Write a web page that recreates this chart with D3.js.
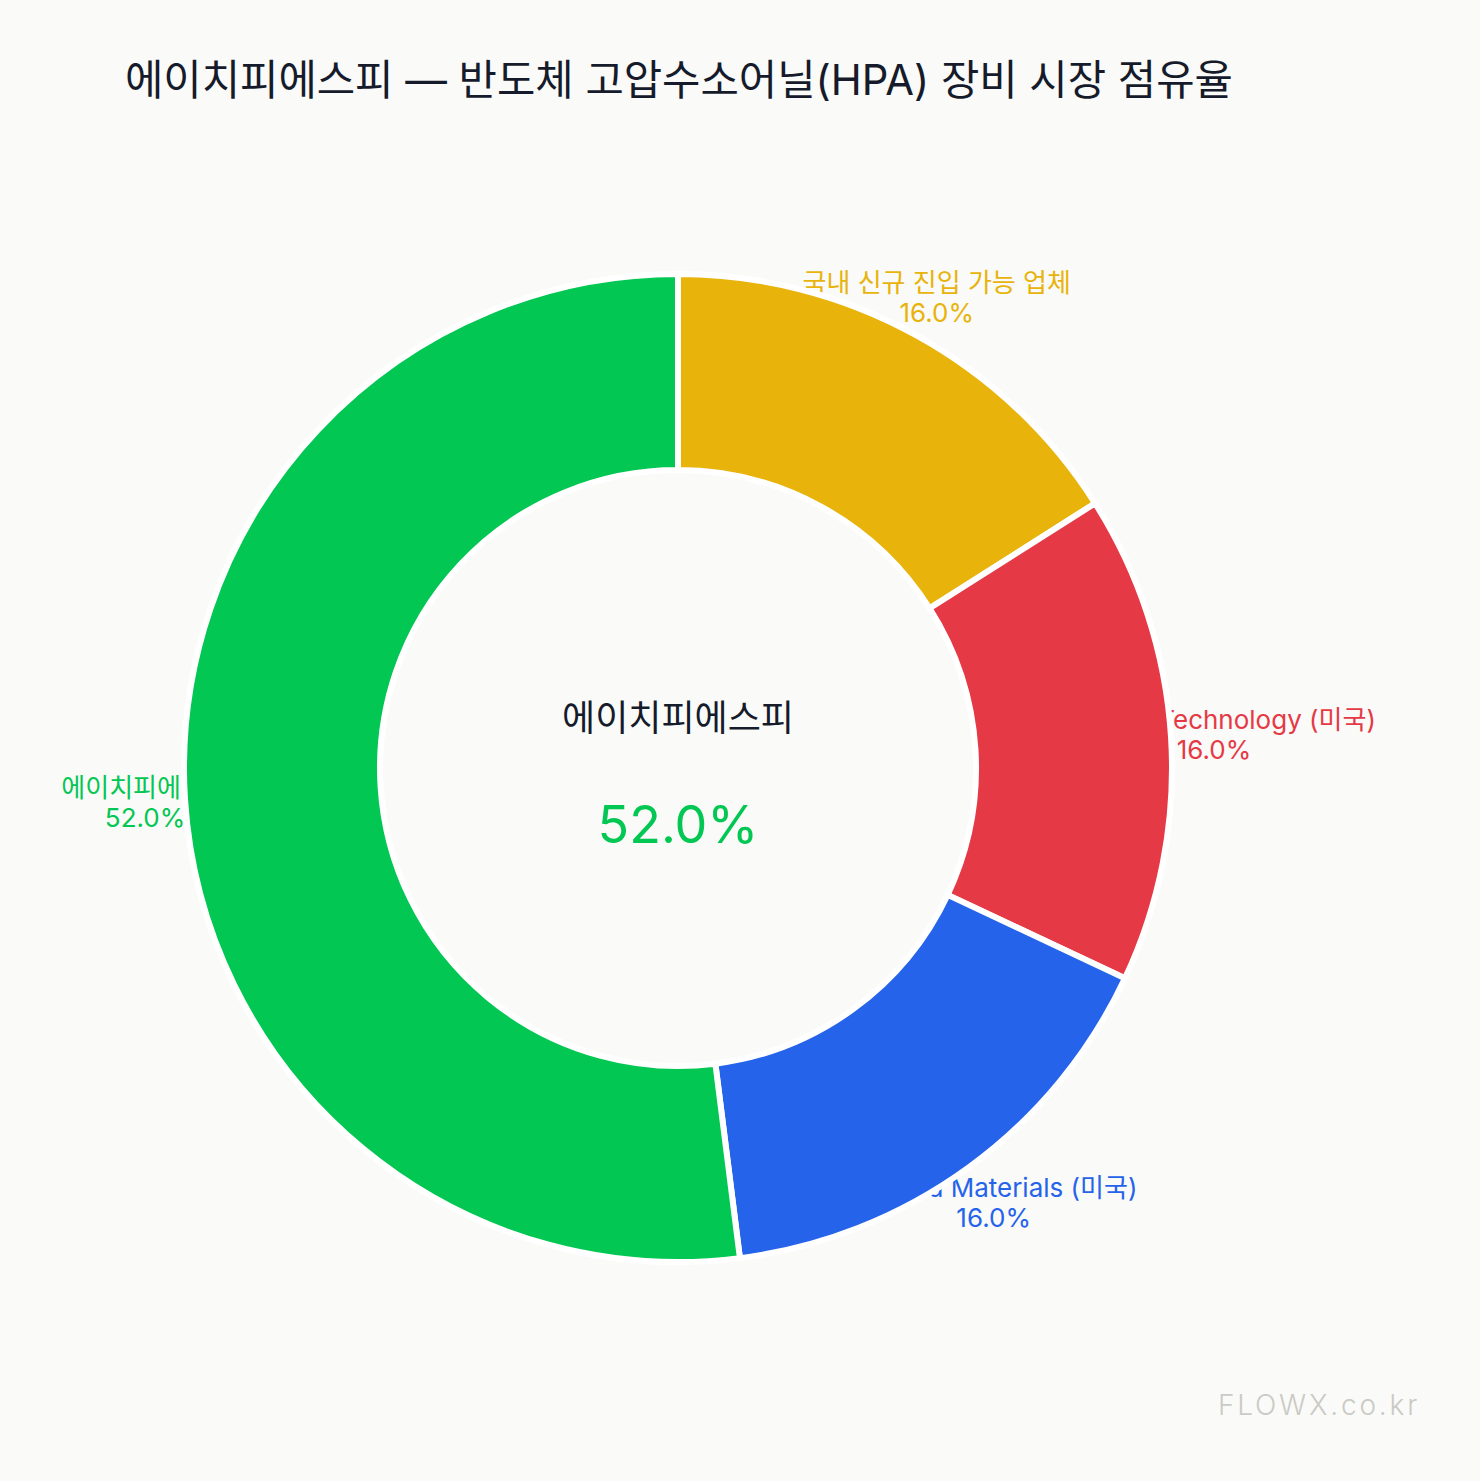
<!DOCTYPE html>
<html>
<head>
<meta charset="utf-8">
<script src="https://cdn.jsdelivr.net/npm/d3@7"></script>
<style>
  body { margin: 0; background: #fafaf8; }
  text { font-family: Inter, "Noto Sans CJK KR", sans-serif; }
</style>
</head>
<body>
<div id="chart"></div>
<script>
// data, in clockwise order from 12 o'clock
var labels = ["국내 신규 진입 가능 업체", "Mattson Technology (미국)", "Applied Materials (미국)", "에이치피에스피"];
var shares = [16, 16, 16, 52];
var colors = ["#e8b30a", "#e63946", "#2563eb", "#02c752"];

var w = 1480, h = 1481;
var cx = 678, cy = 768;
var outerRadius = 494, innerRadius = 298;

var svg = d3.select("#chart")
  .append("svg")
  .attr("width", w)
  .attr("height", h);

svg.append("rect").attr("width", w).attr("height", h).attr("fill", "#fafaf8");

// title
svg.append("text")
  .attr("x", 125)
  .attr("y", 95)
  .attr("font-size", 41.7)
  .attr("fill", "#151b2b")
  .text("에이치피에스피 — 반도체 고압수소어닐(HPA) 장비 시장 점유율");

var pie = d3.pie().sort(null).value(function(d) { return d; });
var arc = d3.arc().innerRadius(innerRadius).outerRadius(outerRadius);
var labelArc = d3.arc().innerRadius(537).outerRadius(537);

var g = svg.append("g")
  .attr("transform", "translate(" + cx + "," + cy + ")");

var slices = pie(shares);

//Labels go underneath the slices
var lab = g.selectAll("g.lab")
  .data(slices)
  .enter()
  .append("g")
  .attr("class", "lab")
  .attr("transform", function(d) {
    var c = labelArc.centroid(d);
    return "translate(" + (c[0] + (c[0] < 0 ? 3 : 0)) + "," + c[1] + ")";
  });

lab.append("text")
  .attr("text-anchor", "middle")
  .attr("y", -5)
  .attr("font-size", 26)
  .attr("fill", function(d, i) { return colors[i]; })
  .text(function(d, i) { return labels[i]; });

lab.append("text")
  .attr("text-anchor", "middle")
  .attr("y", 25)
  .attr("font-size", 26)
  .attr("fill", function(d, i) { return colors[i]; })
  .text(function(d) { return d.value.toFixed(1) + "%"; });

//Draw arc paths
g.selectAll("path.slice")
  .data(slices)
  .enter()
  .append("path")
  .attr("class", "slice")
  .attr("fill", function(d, i) { return colors[i]; })
  .attr("stroke", "#ffffff")
  .attr("stroke-width", 6)
  .attr("d", arc);

// center text
g.append("text")
  .attr("text-anchor", "middle")
  .attr("y", -37)
  .attr("font-size", 36)
  .attr("fill", "#151b2b")
  .text(labels[3]);

g.append("text")
  .attr("text-anchor", "middle")
  .attr("y", 75)
  .attr("font-size", 52)
  .attr("fill", colors[3])
  .text(shares[3].toFixed(1) + "%");

// watermark
svg.append("text")
  .attr("x", 1420)
  .attr("y", 1415)
  .attr("text-anchor", "end")
  .attr("font-size", 28)
  .attr("font-weight", 300)
  .attr("letter-spacing", 2.8)
  .attr("fill", "#cacac6")
  .text("FLOWX.co.kr");
</script>
</body>
</html>
